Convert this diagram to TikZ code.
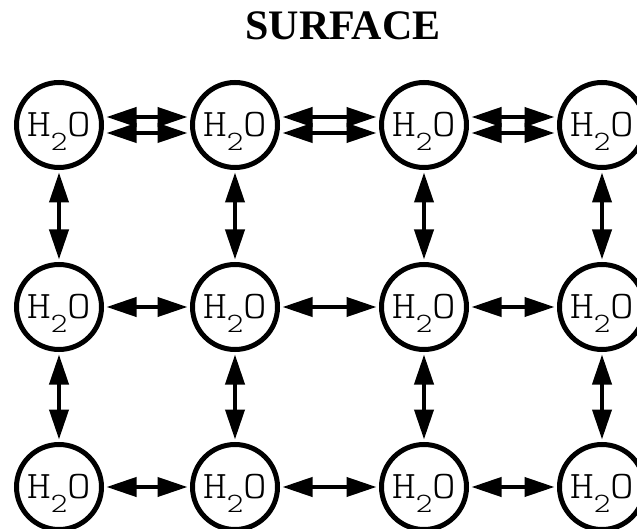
\documentclass[tikz,border=0pt]{standalone}
\usepackage{fontspec}
\setmainfont{Liberation Serif}
\newfontfamily\waterfont{Latin Modern Mono Light}
\usepackage{tikz}
\usetikzlibrary{arrows.meta, positioning}
\newcommand{\water}{\scalebox{1.15}[1]{\waterfont\fontsize{39}{39}\selectfont H\smash{\raisebox{-14pt}{\fontsize{28}{28}\selectfont 2}}O}}
\tikzstyle{molecule} = [circle, draw=black, line width=5pt, minimum size=85pt, inner sep=0pt, outer sep=5pt, text centered]
\tikzstyle{arrow} = [line width=4pt, {Triangle[length=30pt,width=19pt]}-{Triangle[length=30pt,width=19pt]}]

\begin{document}
\begin{tikzpicture}[x=1pt, y=1pt, node distance=180pt, on grid]
        \useasboundingbox (0,0) rectangle (637,-529);
        \node (title) at (343,-26) {\fontsize{42}{42}\selectfont\textbf{SURFACE}};
        % surface row
        \node (top1) [molecule] at (59,-125) {\water};
        \node (top2) [molecule, right=176pt of top1] {\water};
        \node (top3) [molecule, right=189pt of top2] {\water};
        \node (top4) [molecule, right=178pt of top3] {\water};
        % middle row
        \node (mid1) [molecule, below=182pt of top1] {\water};
        \node (mid2) [molecule, below=182pt of top2] {\water};
        \node (mid3) [molecule, below=182pt of top3] {\water};
        \node (mid4) [molecule, below=182pt of top4] {\water};
        % bottom row
        \node (bot1) [molecule, below=180pt of mid1] {\water};
        \node (bot2) [molecule, below=180pt of mid2] {\water};
        \node (bot3) [molecule, below=180pt of mid3] {\water};
        \node (bot4) [molecule, below=180pt of mid4] {\water};

        \draw [arrow] ([yshift=8pt]top1.east) -- ([yshift=8pt]top2.west);
        \draw [arrow] ([yshift=-8pt]top1.east) -- ([yshift=-8pt]top2.west);
        \draw [arrow] ([yshift=8pt]top2.east) -- ([yshift=8pt]top3.west);
        \draw [arrow] ([yshift=-8pt]top2.east) -- ([yshift=-8pt]top3.west);
        \draw [arrow] ([yshift=8pt]top3.east) -- ([yshift=8pt]top4.west);
        \draw [arrow] ([yshift=-8pt]top3.east) -- ([yshift=-8pt]top4.west);

        \draw [arrow] (mid1) -- (mid2);
        \draw [arrow] (mid2) -- (mid3);
        \draw [arrow] (mid3) -- (mid4);
        \draw [arrow] (bot1) -- (bot2);
        \draw [arrow] (bot2) -- (bot3);
        \draw [arrow] (bot3) -- (bot4);

        \draw [arrow] (top1) -- (mid1);
        \draw [arrow] (top2) -- (mid2);
        \draw [arrow] (top3) -- (mid3);
        \draw [arrow] (top4) -- (mid4);
        \draw [arrow] (mid1) -- (bot1);
        \draw [arrow] (mid2) -- (bot2);
        \draw [arrow] (mid3) -- (bot3);
        \draw [arrow] (mid4) -- (bot4);
    \end{tikzpicture}
\end{document}
